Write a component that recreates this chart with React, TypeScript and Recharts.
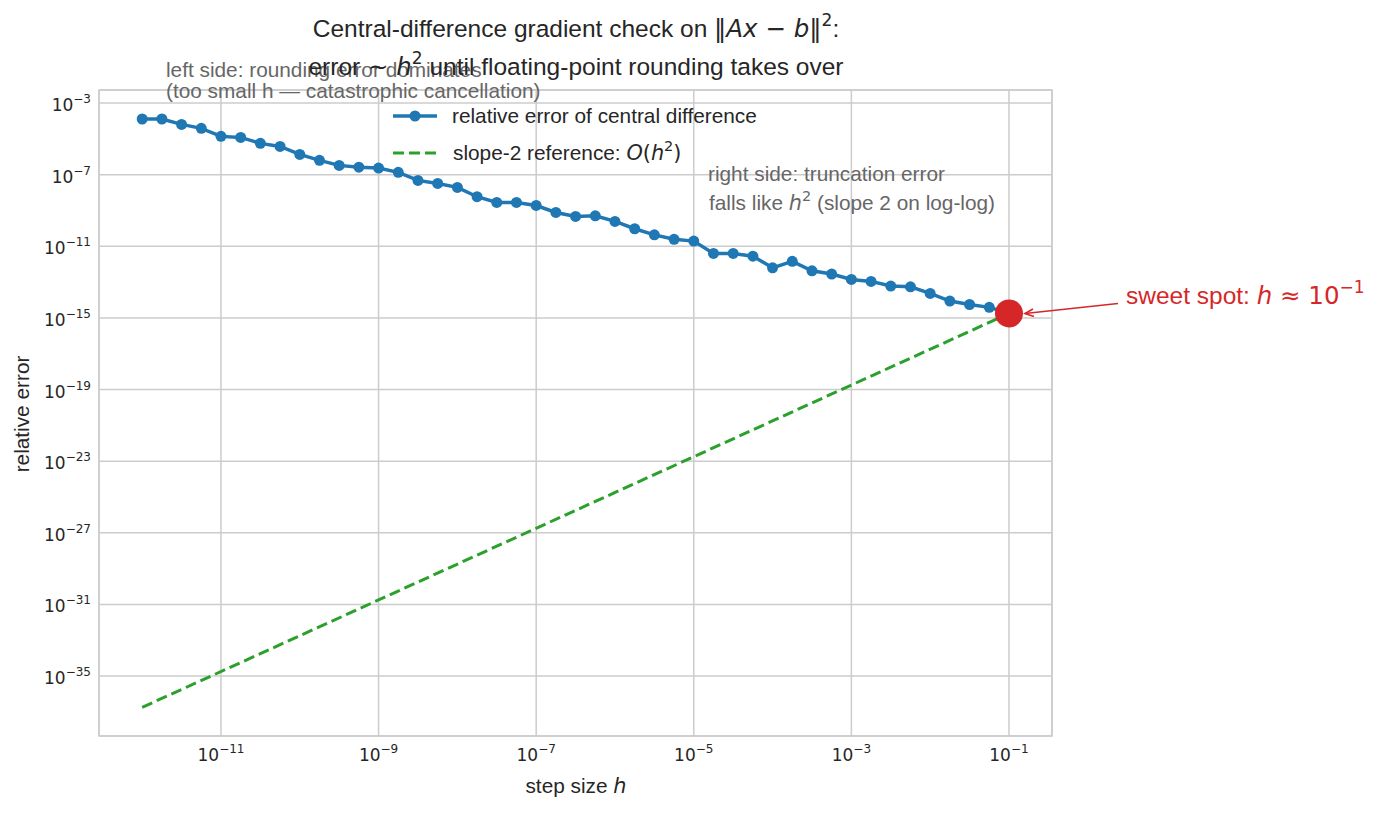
import React from "react";
import {
  LineChart,
  Line,
  XAxis,
  YAxis,
  CartesianGrid,
  ReferenceArea,
  ReferenceDot,
} from "recharts";

// step size h, as powers of ten (quarter-decade grid from 1e-12 to 1e-1)
const stepExponents = [
  -12, -11.75, -11.5, -11.25, -11, -10.75, -10.5, -10.25, -10, -9.75, -9.5, -9.25,
  -9, -8.75, -8.5, -8.25, -8, -7.75, -7.5, -7.25, -7, -6.75, -6.5, -6.25,
  -6, -5.75, -5.5, -5.25, -5, -4.75, -4.5, -4.25, -4, -3.75, -3.5, -3.25,
  -3, -2.75, -2.5, -2.25, -2, -1.75, -1.5, -1.25, -1,
];

// relative error of the central difference, as powers of ten
const errorExponents = [
  -3.89, -3.89, -4.19, -4.41, -4.86, -4.92, -5.25, -5.42, -5.87, -6.2, -6.48, -6.58,
  -6.63, -6.87, -7.32, -7.49, -7.71, -8.23, -8.55, -8.55, -8.72, -9.11, -9.33, -9.3,
  -9.61, -10.02, -10.36, -10.61, -10.71, -11.4, -11.4, -11.55, -12.2, -11.84, -12.37, -12.55,
  -12.85, -12.96, -13.22, -13.26, -13.63, -14.06, -14.25, -14.41, -14.75,
];

// slope-2 reference line, end points only
const refStepExponents = [-12, -1];
const refErrorExponents = [-36.75, -14.75];

const xTickExponents = [-11, -9, -7, -5, -3, -1];
const yTickExponents = [-3, -7, -11, -15, -19, -23, -27, -31, -35];

const sweetSpotExponent = { h: -1, err: -14.75 };

const X_DOMAIN = [Math.pow(10, -12.548), Math.pow(10, -0.454)];
const Y_DOMAIN = [Math.pow(10, -38.35), Math.pow(10, -2.27)];

const BLUE = "#1f77b4";
const GREEN = "#2ca02c";
const RED = "#d62728";
const TEXT = "#262626";
const GRAY = "#666666";
const GRID = "#cccccc";
const FONT = "'Liberation Sans', Arial, sans-serif";
const MATH = "'DejaVu Sans', sans-serif";

const errorData = stepExponents.map((e, i) => ({
  h: Math.pow(10, e),
  err: Math.pow(10, errorExponents[i]),
}));

const refData = refStepExponents.map((e, i) => ({
  h: Math.pow(10, e),
  err: Math.pow(10, refErrorExponents[i]),
}));

const pow10Label = (v: number) => {
  const exp = Math.round(Math.log10(v));
  return exp < 0 ? "\u2212" + Math.abs(exp) : String(exp);
};

function XTick({ x, y, payload }: any) {
  return (
    <text x={x} y={y + 17} textAnchor="middle" fill={TEXT} fontSize={17} fontFamily={MATH}>
      <tspan>10</tspan>
      <tspan dy={-8} fontSize={12}>{pow10Label(payload.value)}</tspan>
    </text>
  );
}

function YTick({ x, y, payload }: any) {
  return (
    <text x={x} y={y + 8} textAnchor="end" fill={TEXT} fontSize={17} fontFamily={MATH}>
      <tspan>10</tspan>
      <tspan dy={-8} fontSize={12}>{pow10Label(payload.value)}</tspan>
    </text>
  );
}

// big red dot, arrow and label for the sweet spot
function SweetSpot({ cx, cy }: any) {
  const tx = cx + 117;
  const ty = cy - 10;
  return (
    <g>
      <circle cx={cx} cy={cy} r={14} fill={RED} />
      <line x1={tx - 8} y1={ty} x2={cx + 16} y2={cy} stroke={RED} strokeWidth={1.6} />
      <path
        d={`M ${cx + 24} ${cy - 4.5} L ${cx + 16} ${cy} L ${cx + 25} ${cy + 3}`}
        fill="none"
        stroke={RED}
        strokeWidth={1.6}
      />
      <text x={tx} y={ty + 1} fill={RED} fontSize={24.5} fontFamily={FONT}>
        <tspan>sweet spot: </tspan>
        <tspan fontFamily={MATH} fontStyle="italic">h</tspan>
        <tspan fontFamily={MATH}> ≈ 10</tspan>
        <tspan fontFamily={MATH} dy={-11} fontSize={17}>{"\u22121"}</tspan>
      </text>
    </g>
  );
}

export default function App() {
  return (
    <div
      style={{
        position: "absolute",
        left: 0,
        top: 0,
        width: 1378,
        height: 813,
        background: "#fff",
        fontFamily: FONT,
      }}
    >
      <LineChart
        width={1378}
        height={813}
        margin={{ top: 90, right: 326, bottom: 0, left: 0 }}
      >
        <CartesianGrid stroke={GRID} strokeWidth={1.5} />
        <XAxis
          dataKey="h"
          type="number"
          scale="log"
          domain={X_DOMAIN}
          allowDataOverflow
          ticks={xTickExponents.map((e) => Math.pow(10, e))}
          tick={<XTick />}
          axisLine={false}
          tickLine={false}
          height={77}
        />
        <YAxis
          dataKey="err"
          type="number"
          scale="log"
          domain={Y_DOMAIN}
          allowDataOverflow
          ticks={yTickExponents.map((e) => Math.pow(10, e))}
          tick={<YTick />}
          axisLine={false}
          tickLine={false}
          width={99}
        />
        <ReferenceArea
          x1={X_DOMAIN[0]}
          x2={X_DOMAIN[1]}
          y1={Y_DOMAIN[0]}
          y2={Y_DOMAIN[1]}
          fill="none"
          stroke={GRID}
          strokeWidth={1.5}
          fillOpacity={0}
        />
        <Line
          data={refData}
          dataKey="err"
          stroke={GREEN}
          strokeWidth={3}
          strokeDasharray="11 5"
          dot={false}
          isAnimationActive={false}
        />
        <Line
          data={errorData}
          dataKey="err"
          stroke={BLUE}
          strokeWidth={3.5}
          dot={{ r: 5.5, fill: BLUE, stroke: BLUE, strokeWidth: 0 }}
          isAnimationActive={false}
        />
        <ReferenceDot
          x={Math.pow(10, sweetSpotExponent.h)}
          y={Math.pow(10, sweetSpotExponent.err)}
          shape={<SweetSpot />}
        />
      </LineChart>

      <svg
        width={1378}
        height={813}
        style={{ position: "absolute", left: 0, top: 0, pointerEvents: "none" }}
        fontFamily={FONT}
      >
        {/* left annotation */}
        <text x={166} y={77} fill={GRAY} fontSize={20.8}>left side: rounding error dominates</text>
        <text x={166} y={98} fill={GRAY} fontSize={20.8}>
          (too small h — catastrophic cancellation)
        </text>

        {/* title */}
        <text x={576} y={37} textAnchor="middle" fill={TEXT} fontSize={24.5}>
          <tspan>Central-difference gradient check on </tspan>
          <tspan fontFamily={MATH}>‖</tspan>
          <tspan fontFamily={MATH} fontStyle="italic">Ax</tspan>
          <tspan fontFamily={MATH}> − </tspan>
          <tspan fontFamily={MATH} fontStyle="italic">b</tspan>
          <tspan fontFamily={MATH}>‖</tspan>
          <tspan fontFamily={MATH} dy={-11} fontSize={17}>2</tspan>
          <tspan dy={11}>:</tspan>
        </text>
        <text x={576} y={75} textAnchor="middle" fill={TEXT} fontSize={24.5}>
          <tspan>error</tspan>
          <tspan fontFamily={MATH}>{"  ∼  "}</tspan>
          <tspan fontFamily={MATH} fontStyle="italic">h</tspan>
          <tspan fontFamily={MATH} dy={-11} fontSize={17}>2</tspan>
          <tspan dy={11}> until floating-point rounding takes over</tspan>
        </text>

        {/* legend */}
        <line x1={393} y1={116} x2={437} y2={116} stroke={BLUE} strokeWidth={3.5} />
        <circle cx={415} cy={116} r={5.5} fill={BLUE} />
        <text x={452} y={123} fill={TEXT} fontSize={20.8}>relative error of central difference</text>
        <line
          x1={393}
          y1={153}
          x2={437}
          y2={153}
          stroke={GREEN}
          strokeWidth={3}
          strokeDasharray="11 5"
        />
        <text x={453} y={160} fill={TEXT} fontSize={20.8}>
          <tspan>slope-2 reference: </tspan>
          <tspan fontFamily={MATH} fontStyle="italic">O</tspan>
          <tspan fontFamily={MATH}>(</tspan>
          <tspan fontFamily={MATH} fontStyle="italic">h</tspan>
          <tspan fontFamily={MATH} dy={-9} fontSize={14.5}>2</tspan>
          <tspan fontFamily={MATH} dy={9}>)</tspan>
        </text>

        {/* right annotation */}
        <text x={708} y={181} fill={GRAY} fontSize={20.8}>right side: truncation error</text>
        <text x={709} y={210} fill={GRAY} fontSize={20.8}>
          <tspan>falls like </tspan>
          <tspan fontFamily={MATH} fontStyle="italic">h</tspan>
          <tspan fontFamily={MATH} dy={-9} fontSize={14.5}>2</tspan>
          <tspan dy={9}> (slope 2 on log-log)</tspan>
        </text>

        {/* axis labels */}
        <text x={576} y={793} textAnchor="middle" fill={TEXT} fontSize={20.8}>
          <tspan>step size </tspan>
          <tspan fontFamily={MATH} fontStyle="italic">h</tspan>
        </text>
        <text
          x={29}
          y={414}
          textAnchor="middle"
          fill={TEXT}
          fontSize={20.8}
          transform="rotate(-90 29 414)"
        >
          relative error
        </text>
      </svg>
    </div>
  );
}
